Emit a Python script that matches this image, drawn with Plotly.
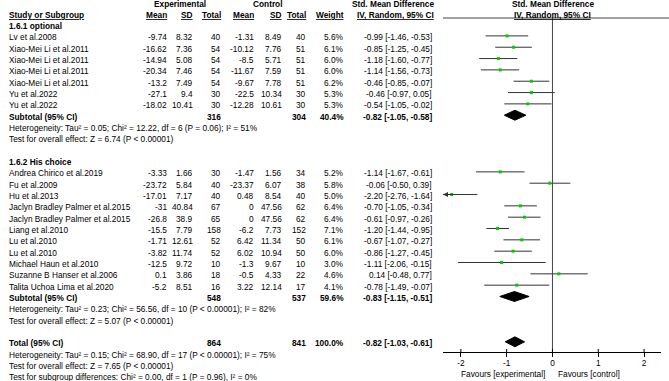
import plotly.graph_objects as go

W, H = 669, 381

# ---------------- data ----------------
g1_title = "1.6.1 optional"
g1_names = ["Lv et al.2008", "Xiao-Mei Li et al.2011", "Xiao-Mei Li et al.2011",
            "Xiao-Mei Li et al.2011", "Xiao-Mei Li et al.2011", "Yu et al.2022", "Yu et al.2022"]
g1_exp_mean = [-9.74, -16.62, -14.94, -20.34, -13.2, -27.1, -18.02]
g1_exp_sd = [8.32, 7.36, 5.08, 7.46, 7.49, 9.4, 10.41]
g1_exp_n = [40, 54, 54, 54, 54, 30, 30]
g1_ctl_mean = [-1.31, -10.12, -8.5, -11.67, -9.67, -22.5, -12.28]
g1_ctl_sd = [8.49, 7.76, 5.71, 7.59, 7.78, 10.34, 10.61]
g1_ctl_n = [40, 51, 51, 51, 51, 30, 30]
g1_weight = [5.6, 6.1, 6.0, 6.0, 6.2, 5.3, 5.3]
g1_smd = [-0.99, -0.85, -1.18, -1.14, -0.46, -0.46, -0.54]
g1_lo = [-1.46, -1.25, -1.60, -1.56, -0.85, -0.97, -1.05]
g1_hi = [-0.53, -0.45, -0.77, -0.73, -0.07, 0.05, -0.02]
g1_sub = dict(exp_n=316, ctl_n=304, weight=40.4, smd=-0.82, lo=-1.05, hi=-0.58)
g1_het = "Heterogeneity: Tau² = 0.05; Chi² = 12.22, df = 6 (P = 0.06); I² = 51%"
g1_test = "Test for overall effect: Z = 6.74 (P < 0.00001)"

g2_title = "1.6.2 His choice"
g2_names = ["Andrea Chirico et al.2019", "Fu et al.2009", "Hu et al.2013",
            "Jaclyn Bradley Palmer et al.2015", "Jaclyn Bradley Palmer et al.2015",
            "Liang et al.2010", "Lu et al.2010", "Lu et al.2010", "Michael Haun et al.2010",
            "Suzanne B Hanser et al.2006", "Talita Uchoa Lima et al.2020"]
g2_exp_mean = [-3.33, -23.72, -17.01, -31, -26.8, -15.5, -1.71, -3.82, -12.5, 0.1, -5.2]
g2_exp_sd = [1.66, 5.84, 7.17, 40.84, 38.9, 7.79, 12.61, 11.74, 9.72, 3.86, 8.51]
g2_exp_n = [30, 40, 40, 67, 65, 158, 52, 52, 10, 18, 16]
g2_ctl_mean = [-1.47, -23.37, 0.48, 0, 0, -6.2, 6.42, 6.02, -1.3, -0.5, 3.22]
g2_ctl_sd = [1.56, 6.07, 8.54, 47.56, 47.56, 7.73, 11.34, 10.94, 9.67, 4.33, 12.14]
g2_ctl_n = [34, 38, 40, 62, 62, 152, 50, 50, 10, 22, 17]
g2_weight = [5.2, 5.8, 5.0, 6.4, 6.4, 7.1, 6.1, 6.0, 3.0, 4.6, 4.1]
g2_smd = [-1.14, -0.06, -2.20, -0.70, -0.61, -1.20, -0.67, -0.86, -1.11, 0.14, -0.78]
g2_lo = [-1.67, -0.50, -2.76, -1.05, -0.97, -1.44, -1.07, -1.27, -2.06, -0.48, -1.49]
g2_hi = [-0.61, 0.39, -1.64, -0.34, -0.26, -0.95, -0.27, -0.45, -0.15, 0.77, -0.07]
g2_sub = dict(exp_n=548, ctl_n=537, weight=59.6, smd=-0.83, lo=-1.15, hi=-0.51)
g2_het = "Heterogeneity: Tau² = 0.23; Chi² = 56.56, df = 10 (P < 0.00001); I² = 82%"
g2_test = "Test for overall effect: Z = 5.07 (P < 0.00001)"

tot = dict(exp_n=864, ctl_n=841, weight=100.0, smd=-0.82, lo=-1.03, hi=-0.61)
tot_het = "Heterogeneity: Tau² = 0.15; Chi² = 68.90, df = 17 (P < 0.00001); I² = 75%"
tot_test = "Test for overall effect: Z = 7.65 (P < 0.00001)"
tot_sub = "Test for subgroup differences: Chi² = 0.00, df = 1 (P = 0.96), I² = 0%"

tick_vals = [-2, -1, 0, 1, 2]
tick_text = ["-2", "-1", "0", "1", "2"]
x_range = [-2.39, 2.37]

# ---------------- layout helpers ----------------
FONT = "Liberation Sans, Arial, sans-serif"
FS = 8.3
Y0, DY = 14.6, 11.33          # pixel of row 0, row pitch
AX_PX = 352                    # x-axis line pixel
MARK_OFF = -0.12               # marks slightly above text centre

def px_x(p):
    return p / W

def px_y(p):
    return 1 - p / H

def row_py(k):
    return Y0 + DY * k

COL = dict(name=7, em=169, esd=195, en=223, cm=256, csd=284, cn=308, w=346, ci=434)

def fmt(v):
    return f"{v:g}"

def ci_txt(e, lo, hi):
    return f"{e:.2f} [{lo:.2f}, {hi:.2f}]"

ann = []

def txt(x, k, s, anchor="right", bold=False, under=False, py=None):
    if bold:
        s = f"<b>{s}</b>"
    if under:
        s = f"<u>{s}</u>"
    y = px_y(py if py is not None else row_py(k))
    ann.append(dict(x=px_x(x), y=y, xref="paper", yref="paper", text=s, showarrow=False,
                    xanchor=anchor, yanchor="middle",
                    font=dict(family=FONT, size=FS, color="#000")))

# headers
txt(180, -0.9, "Experimental", anchor="center", bold=True)
txt(268, -0.9, "Control", anchor="center", bold=True)
txt(393, -0.9, "Std. Mean Difference", anchor="center", bold=True)
txt(552.6, -0.9, "Std. Mean Difference", anchor="center", bold=True)
txt(COL["name"], 0, "Study or Subgroup", anchor="left", bold=True, under=True)
for key, lab in [("em", "Mean"), ("esd", "SD"), ("en", "Total"), ("cm", "Mean"),
                 ("csd", "SD"), ("cn", "Total"), ("w", "Weight")]:
    txt(COL[key], 0, lab, bold=True, under=True)
txt(395, 0, "IV, Random, 95% CI", anchor="center", bold=True, under=True)
txt(552.6, 0, "IV, Random, 95% CI", anchor="center", bold=True, under=True)

study_x, study_y, study_lo, study_hi = [], [], [], []
diamonds = []

def group(k, title, names, em, esd, en, cm, csd, cn, w, smd, lo, hi, sub, het, test):
    txt(COL["name"], k, title, anchor="left", bold=True)
    k += 1
    for i in range(len(names)):
        txt(COL["name"], k, names[i], anchor="left")
        txt(COL["em"], k, fmt(em[i]))
        txt(COL["esd"], k, fmt(esd[i]))
        txt(COL["en"], k, fmt(en[i]))
        txt(COL["cm"], k, fmt(cm[i]))
        txt(COL["csd"], k, fmt(csd[i]))
        txt(COL["cn"], k, fmt(cn[i]))
        txt(COL["w"], k, f"{w[i]:.1f}%")
        txt(COL["ci"], k, ci_txt(smd[i], lo[i], hi[i]))
        study_x.append(smd[i]); study_y.append(k + MARK_OFF)
        study_lo.append(lo[i]); study_hi.append(hi[i])
        k += 1
    txt(COL["name"], k, "Subtotal (95% CI)", anchor="left", bold=True)
    txt(COL["en"], k, fmt(sub["exp_n"]), bold=True)
    txt(COL["cn"], k, fmt(sub["ctl_n"]), bold=True)
    txt(COL["w"], k, f"{sub['weight']:.1f}%", bold=True)
    txt(COL["ci"], k, ci_txt(sub["smd"], sub["lo"], sub["hi"]), bold=True)
    diamonds.append((k + MARK_OFF, sub["smd"], sub["lo"], sub["hi"]))
    k += 1
    txt(COL["name"], k, het, anchor="left"); k += 1
    txt(COL["name"], k, test, anchor="left"); k += 1
    return k + 1

k = group(1, g1_title, g1_names, g1_exp_mean, g1_exp_sd, g1_exp_n, g1_ctl_mean, g1_ctl_sd,
          g1_ctl_n, g1_weight, g1_smd, g1_lo, g1_hi, g1_sub, g1_het, g1_test)
k = group(k, g2_title, g2_names, g2_exp_mean, g2_exp_sd, g2_exp_n, g2_ctl_mean, g2_ctl_sd,
          g2_ctl_n, g2_weight, g2_smd, g2_lo, g2_hi, g2_sub, g2_het, g2_test)
txt(COL["name"], k, "Total (95% CI)", anchor="left", bold=True)
txt(COL["en"], k, fmt(tot["exp_n"]), bold=True)
txt(COL["cn"], k, fmt(tot["ctl_n"]), bold=True)
txt(COL["w"], k, f"{tot['weight']:.1f}%", bold=True)
txt(COL["ci"], k, ci_txt(tot["smd"], tot["lo"], tot["hi"]), bold=True)
diamonds.append((k + MARK_OFF, tot["smd"], tot["lo"], tot["hi"]))
txt(COL["name"], k + 1, tot_het, anchor="left")
txt(COL["name"], k + 2, tot_test, anchor="left")
txt(COL["name"], k + 3, tot_sub, anchor="left")

# favours labels
txt(547, 0, "Favours [experimental]", anchor="right", py=373.5)
txt(556, 0, "Favours [control]", anchor="left", py=373.5)

fig = go.Figure()

# CI lines
lx, ly = [], []
for x0, x1, y in zip(study_lo, study_hi, study_y):
    lx += [x0, x1, None]; ly += [y, y, None]
fig.add_trace(go.Scatter(x=lx, y=ly, mode="lines", line=dict(color="#333", width=1),
                         hoverinfo="skip", showlegend=False))
# arrows for clipped CIs
for x0, y in zip(study_lo, study_y):
    if x0 < x_range[0]:
        ann.append(dict(x=x_range[0], y=y, xref="x", yref="y", ax=x_range[0] + 0.25, ay=y,
                        axref="x", ayref="y", showarrow=True, arrowhead=2, arrowsize=1.0,
                        arrowwidth=1, arrowcolor="#333", text=""))
# points
fig.add_trace(go.Scatter(x=study_x, y=study_y, mode="markers",
                         marker=dict(symbol="square", size=3, color="#00cc00"),
                         cliponaxis=False, hoverinfo="skip", showlegend=False))
# diamonds
HALF = 0.44
for (y, e, lo, hi) in diamonds:
    fig.add_trace(go.Scatter(x=[lo, e, hi, e, lo], y=[y, y - HALF, y, y + HALF, y],
                             mode="lines", fill="toself", fillcolor="#000",
                             line=dict(color="#000", width=1), hoverinfo="skip",
                             showlegend=False))

shapes = [
    dict(type="line", xref="x", yref="paper", x0=0, x1=0, y0=px_y(18), y1=px_y(AX_PX),
         line=dict(color="#444", width=1)),
    dict(type="line", xref="paper", yref="paper", x0=px_x(443), x1=1, y0=px_y(18), y1=px_y(18),
         line=dict(color="#444", width=1)),
]
for tv in tick_vals:
    shapes.append(dict(type="line", xref="x", yref="paper", x0=tv, x1=tv,
                       y0=px_y(AX_PX), y1=px_y(AX_PX - 3), line=dict(color="#000", width=1)))

fig.update_layout(
    width=W, height=H, margin=dict(l=0, r=0, t=0, b=0),
    paper_bgcolor="white", plot_bgcolor="white",
    annotations=ann, shapes=shapes,
    xaxis=dict(domain=[px_x(443), px_x(661)], range=x_range, tickvals=tick_vals,
               ticktext=tick_text, ticks="outside", ticklen=4, tickcolor="#000",
               ticklabelstandoff=-1,
               showline=True, linecolor="#000", linewidth=1, showgrid=False, zeroline=False,
               tickfont=dict(family=FONT, size=FS, color="#000"), fixedrange=True),
    yaxis=dict(domain=[1 - AX_PX / H, 1], range=[(AX_PX - Y0) / DY, -Y0 / DY], visible=False,
               fixedrange=True),
    font=dict(family=FONT, size=FS, color="#000"),
)

fig.write_html("out.html", config=dict(displayModeBar=False),
               post_script="document.body.style.margin='0';document.body.style.padding='0';"
                           "document.body.style.overflow='hidden';")
